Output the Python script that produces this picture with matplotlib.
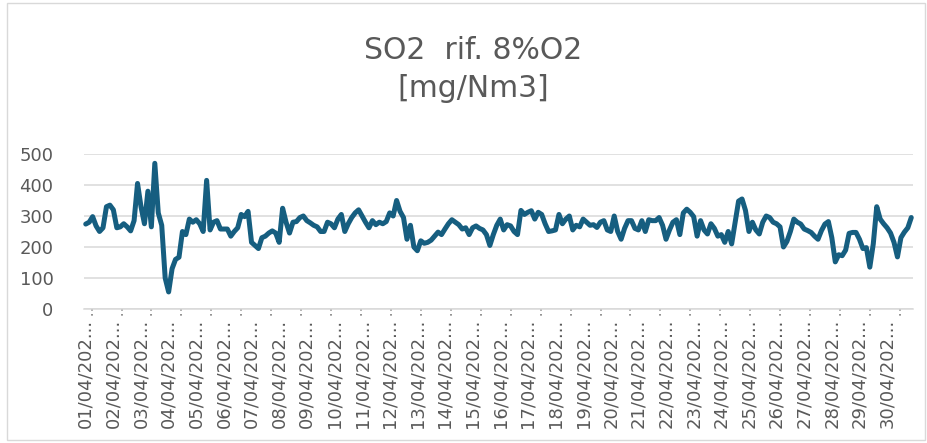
import matplotlib.pyplot as plt
from matplotlib.patches import Rectangle

# 3-hourly readings of SO2 (mg/Nm3), 1-30 April
so2 = [
    274, 280, 298, 268, 250, 262, 330, 335, 320, 262,
    265, 275, 265, 252, 285, 405, 330, 275, 380, 265,
    470, 310, 270, 100, 55, 130, 160, 167, 250, 240,
    290, 280, 288, 275, 250, 415, 255, 280, 285, 258,
    258,
    258, 235, 250, 262, 305, 298, 315, 215, 205, 195,
    230, 235, 245, 252, 245, 215, 325, 280, 245, 280,
    282, 295, 300, 285, 278, 270, 265, 250, 250, 280,
    275, 262, 290, 305, 250, 275, 295, 310, 320,
    300, 280, 262, 285, 272, 280, 275, 282, 310, 300,
    350, 315, 295, 225, 270, 200, 188, 220, 212, 215,
    222, 235, 248, 240, 258, 275, 288, 280, 272, 258,
    262, 240, 262, 268, 260, 255, 240, 205, 240, 270,
    290,
    255, 272, 268, 250, 240, 318, 305, 312, 317, 290,
    312, 305, 275, 250, 252, 255, 305, 275, 290, 300,
    255, 270, 265, 290, 280, 270, 272, 263, 280, 285,
    255, 250, 300, 250, 225, 260, 285, 285, 260, 255,
    285, 250, 288, 285, 285, 295, 270, 225, 255, 280,
    288, 240, 310, 322, 312, 298, 235, 285, 255, 242,
    275, 260, 235, 240, 215, 250, 210, 280, 348, 355,
    318, 250, 280, 255, 242, 280, 300, 295, 280, 275,
    265, 200, 218, 250, 290, 280, 274, 258, 253, 247,
    235, 225, 253, 274, 282, 230, 152, 175, 172, 190,
    244, 247, 247, 225, 195, 198, 135, 210, 330, 290,
    275, 262, 245, 215, 168, 230, 248, 262, 295,
]
samples_per_day = 8
days = ['%02d/04/202...' % d for d in range(1, 31)]
yticks = [0, 100, 200, 300, 400, 500]

line_color = '#165e80'
text_color = '#595959'
grid_color = '#d9d9d9'

fig = plt.figure(figsize=(9.28, 4.43), dpi=100)
ax = fig.add_axes([84 / 928, 1 - 309 / 443, 829 / 928, 155 / 443])

x = list(range(len(so2)))
ax.plot(x, so2, color=line_color, lw=3.6, solid_joinstyle='round', solid_capstyle='round',
        clip_on=False, zorder=3)

ax.set_xlim(-0.5, len(so2) - 0.5)
ax.set_ylim(0, 500)
ax.set_yticks(yticks)
ax.set_yticklabels([str(v) for v in yticks])
ax.yaxis.grid(True, color=grid_color, lw=1.1)
ax.set_axisbelow(True)

ax.set_xticks(range(0, len(so2), samples_per_day))
ax.set_xticklabels(days, rotation=90, va='top', ha='center')

ax.tick_params(axis='y', length=0, pad=22, labelsize=13, labelcolor=text_color)
ax.tick_params(axis='x', length=0, pad=7, labelsize=13, labelcolor=text_color)
for s in ['top', 'right', 'left']:
    ax.spines[s].set_visible(False)
ax.spines['bottom'].set_color(grid_color)
ax.spines['bottom'].set_linewidth(1.1)

# small dotted tick marks under the axis line
tick_step = 26 / 3
t = 1.7
while t < len(so2):
    ax.plot([t, t], [0, -0.045], transform=ax.get_xaxis_transform(), color='#7f7f7f',
            lw=1.2, ls=(0, (1, 2)), clip_on=False)
    t += tick_step

fig.text(473 / 928, 1 - 36 / 443, 'SO2  rif. 8%O2\n[mg/Nm3]', ha='center', va='top',
         fontsize=21.5, color=text_color, linespacing=1.4)

fig.add_artist(Rectangle((7 / 928, 3 / 443), 918 / 928, 437 / 443, transform=fig.transFigure,
                         fill=False, edgecolor=grid_color, lw=1))

fig.savefig('out.png', dpi=100)
